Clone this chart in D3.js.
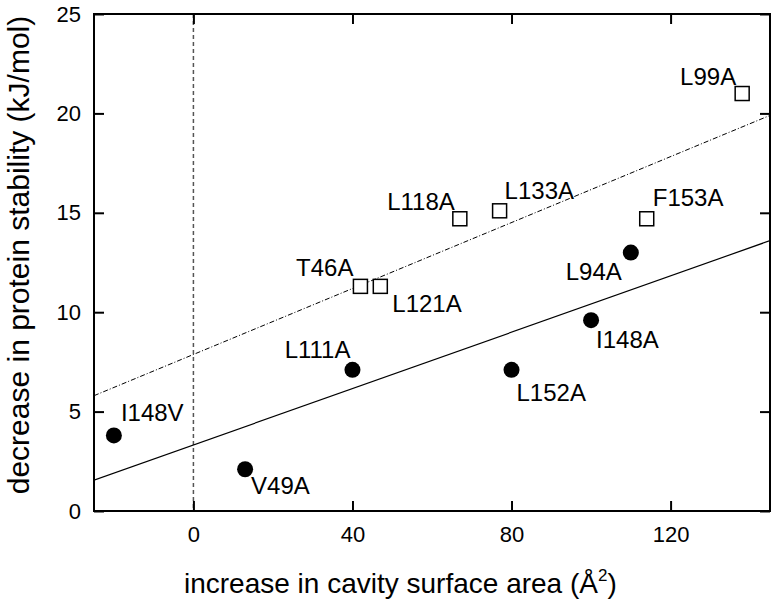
<!DOCTYPE html>
<html>
<head>
<meta charset="utf-8">
<script src="https://cdn.jsdelivr.net/npm/d3@7"></script>
<style>
  html, body { margin: 0; padding: 0; background: #fff; }
  svg { display: block; }
  text { font-family: "Liberation Sans", Arial, Helvetica, sans-serif; fill: #000; }
</style>
</head>
<body>
<svg id="chart" width="774" height="603"></svg>
<script>
// ---- data ----
const filledNames = ["I148V", "V49A", "L111A", "L152A", "I148A", "L94A"];
const filledX = [-20, 13, 40, 80, 100, 110];
const filledY = [3.8, 2.1, 7.1, 7.1, 9.6, 13.0];

const openNames = ["T46A", "L121A", "L118A", "L133A", "F153A", "L99A"];
const openX = [42, 47, 67, 77, 114, 138];
const openY = [11.3, 11.3, 14.7, 15.1, 14.7, 21.0];

// regression lines (endpoints)
const solidLineX = [-25, 145];
const solidLineY = [1.55, 13.6];
const dashLineX = [-25, 145];
const dashLineY = [5.8, 19.9];

const xTicks = [0, 40, 80, 120];
const yTicks = [0, 5, 10, 15, 20, 25];
const xDomain = [-25, 145];
const yDomain = [0, 25];

// label offsets (pixels) and anchors
const filledLabelPos = [
  {dx: 7, dy: -14, anchor: "start"},
  {dx: 6, dy: 25, anchor: "start"},
  {dx: -2, dy: -12, anchor: "end"},
  {dx: 5, dy: 31, anchor: "start"},
  {dx: 5, dy: 28, anchor: "start"},
  {dx: -9, dy: 27, anchor: "end"}
];
const openLabelPos = [
  {dx: -7, dy: -10, anchor: "end"},
  {dx: 12, dy: 26, anchor: "start"},
  {dx: -5, dy: -9, anchor: "end"},
  {dx: 5, dy: -12, anchor: "start"},
  {dx: 6, dy: -13, anchor: "start"},
  {dx: -6, dy: -9, anchor: "end"}
];

// ---- layout ----
const L = 94, R = 770, T = 14, B = 511;
const svg = d3.select("#chart");
const x = d3.scaleLinear().domain(xDomain).range([L, R]);
const y = d3.scaleLinear().domain(yDomain).range([B, T]);

svg.append("defs").append("clipPath").attr("id", "clip")
  .append("rect").attr("x", L).attr("y", T).attr("width", R - L).attr("height", B - T);

// vertical dashed line at x = 0
svg.append("line")
  .attr("x1", x(0)).attr("x2", x(0)).attr("y1", T).attr("y2", B)
  .attr("stroke", "#555").attr("stroke-width", 1.5).attr("stroke-dasharray", "4,3");

// regression lines
const lineGen = d3.line().x(d => x(d[0])).y(d => y(d[1]));
const plot = svg.append("g").attr("clip-path", "url(#clip)");
plot.append("path")
  .datum(solidLineX.map((v, i) => [v, solidLineY[i]]))
  .attr("d", lineGen).attr("fill", "none").attr("stroke", "#000").attr("stroke-width", 1.2);
plot.append("path")
  .datum(dashLineX.map((v, i) => [v, dashLineY[i]]))
  .attr("d", lineGen).attr("fill", "none").attr("stroke", "#000").attr("stroke-width", 1)
  .attr("stroke-dasharray", "5,2,1,2");

// axes
function styleAxis(g) {
  g.select(".domain").remove();
  g.selectAll(".tick line").attr("stroke", "#000").attr("stroke-width", 2);
  g.selectAll(".tick text").attr("font-size", 22).attr("font-family", "Liberation Sans, Arial, sans-serif").attr("fill", "#000");
}
svg.append("g").attr("transform", `translate(0,${B})`)
  .call(d3.axisBottom(x).tickValues(xTicks).tickSize(-10).tickPadding(15).tickFormat(d3.format("d")))
  .call(styleAxis);
svg.append("g").attr("transform", `translate(0,${T})`)
  .call(d3.axisTop(x).tickValues(xTicks).tickSize(-10).tickFormat(""))
  .call(styleAxis);
svg.append("g").attr("transform", `translate(${L},0)`)
  .call(d3.axisLeft(y).tickValues(yTicks).tickSize(-10).tickPadding(13).tickFormat(d3.format("d")))
  .call(styleAxis);
svg.append("g").attr("transform", `translate(${R},0)`)
  .call(d3.axisRight(y).tickValues(yTicks).tickSize(-10).tickFormat(""))
  .call(styleAxis);

// frame
svg.append("rect").attr("x", L).attr("y", T).attr("width", R - L).attr("height", B - T)
  .attr("fill", "none").attr("stroke", "#000").attr("stroke-width", 2);

// points
const filled = filledNames.map((n, i) => ({name: n, x: filledX[i], y: filledY[i], p: filledLabelPos[i]}));
const open = openNames.map((n, i) => ({name: n, x: openX[i], y: openY[i], p: openLabelPos[i]}));

svg.append("g").selectAll("circle").data(filled).join("circle")
  .attr("cx", d => x(d.x)).attr("cy", d => y(d.y)).attr("r", 8).attr("fill", "#000");

const sq = 14;
svg.append("g").selectAll("rect").data(open).join("rect")
  .attr("x", d => x(d.x) - sq / 2).attr("y", d => y(d.y) - sq / 2)
  .attr("width", sq).attr("height", sq)
  .attr("fill", "#fff").attr("stroke", "#000").attr("stroke-width", 1.5);

// labels
svg.append("g").selectAll("text").data(filled.concat(open)).join("text")
  .attr("x", d => x(d.x) + d.p.dx).attr("y", d => y(d.y) + d.p.dy)
  .attr("text-anchor", d => d.p.anchor)
  .attr("font-size", 24)
  .text(d => d.name);

// axis titles
const xt = svg.append("text").attr("x", 184).attr("y", 593).attr("font-size", 28);
xt.append("tspan").text("increase in cavity surface area (Å");
xt.append("tspan").attr("font-size", 17).attr("dy", -12).text("2");
xt.append("tspan").attr("dy", 12).text(")");

svg.append("text")
  .attr("transform", "translate(29,255) rotate(-90)")
  .attr("text-anchor", "middle").attr("font-size", 30)
  .text("decrease in protein stability (kJ/mol)");
</script>
</body>
</html>
